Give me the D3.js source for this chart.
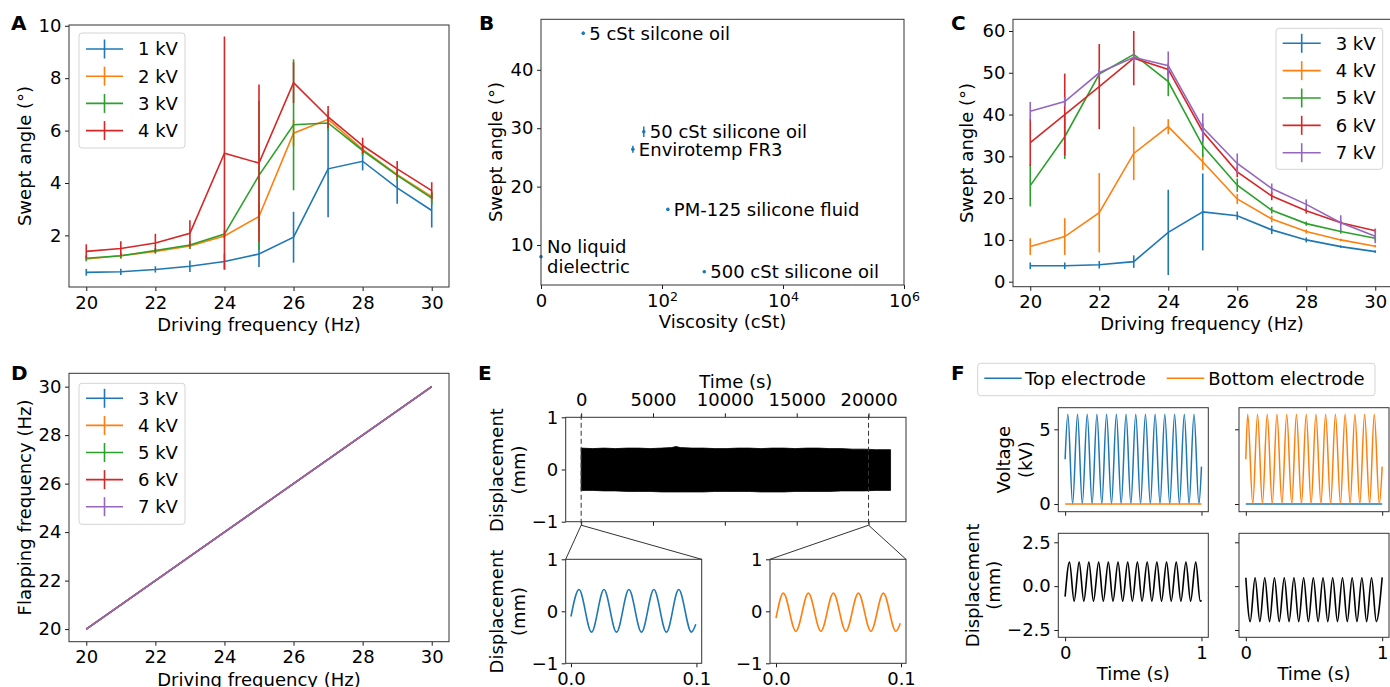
<!DOCTYPE html>
<html>
<head>
<meta charset="utf-8">
<script src="https://cdn.jsdelivr.net/npm/d3@7"></script>
<style>
body { margin: 0; background: #fff; }
svg { display: block; font-family: "DejaVu Sans", sans-serif; }
</style>
</head>
<body>
<svg id="fig" width="1390" height="687"></svg>
<script>
const tab = ['#1f77b4', '#ff7f0e', '#2ca02c', '#d62728', '#9467bd'];
const FS = 18;

// ---- A: swept angle vs driving frequency, 1-4 kV
const freqs = [20, 21, 22, 23, 24, 25, 26, 27, 28, 29, 30];
const labelsA = ['1 kV', '2 kV', '3 kV', '4 kV'];
const angle1kV = [0.59, 0.61, 0.70, 0.82, 1.00, 1.29, 1.93, 4.54, 4.83, 3.81, 2.95];
const err1kV = [0.13, 0.12, 0.12, 0.22, 0.30, 0.50, 0.97, 1.85, 0.35, 0.60, 0.65];
const angle2kV = [1.10, 1.22, 1.39, 1.60, 1.98, 2.72, 5.90, 6.43, 5.28, 4.32, 3.48];
const err2kV = [0.10, 0.10, 0.10, 0.12, 0.10, 0.50, 0.50, 0.30, 0.20, 0.20, 0.20];
const angle3kV = [1.13, 1.22, 1.42, 1.63, 2.05, 4.29, 6.22, 6.29, 5.24, 4.29, 3.42];
const err3kV = [0.10, 0.10, 0.10, 0.15, 0.15, 2.85, 2.50, 0.30, 0.20, 0.20, 0.25];
const angle4kV = [1.39, 1.50, 1.71, 2.08, 5.14, 4.76, 7.83, 6.52, 5.43, 4.54, 3.71];
const err4kV = [0.27, 0.28, 0.35, 0.50, 4.45, 3.00, 0.78, 0.42, 0.30, 0.30, 0.32];

// ---- B: swept angle vs viscosity
const fluids = ['No liquid\ndielectric', '5 cSt silcone oil', '50 cSt silicone oil', 'Envirotemp FR3', 'PM-125 silicone fluid', '500 cSt silicone oil'];
const viscosity = [1, 5, 50, 33, 125, 500];
const angleB = [8.0, 46.25, 29.4, 26.4, 16.1, 5.43];
const errB = [0.2, 0.3, 0.9, 0.6, 0.2, 0.2];

// ---- C: swept angle vs driving frequency, 3-7 kV
const labelsC = ['3 kV', '4 kV', '5 kV', '6 kV', '7 kV'];
const angleC3 = [3.8, 3.8, 4.05, 4.8, 11.8, 16.7, 15.8, 12.4, 10.0, 8.4, 7.2];
const errC3 = [0.8, 0.8, 0.9, 1.5, 10.2, 9.2, 1.0, 1.0, 0.6, 0.3, 0.3];
const angleC4 = [8.4, 10.8, 16.5, 30.7, 37.1, 28.7, 19.8, 15.0, 12.0, 10.0, 8.5];
const errC4 = [2.0, 4.4, 9.5, 6.4, 1.8, 2.0, 1.2, 0.8, 0.5, 0.3, 0.3];
const angleC5 = [23.0, 34.7, 49.7, 54.4, 47.9, 32.5, 23.1, 17.1, 13.9, 12.0, 10.4];
const errC5 = [5.0, 5.3, 1.0, 1.0, 3.5, 2.6, 1.6, 0.8, 0.5, 0.5, 0.6];
const angleC6 = [33.3, 40.0, 46.7, 53.5, 50.8, 35.9, 26.3, 20.5, 17.0, 14.1, 12.2];
const errC6 = [5.6, 9.8, 10.2, 6.5, 1.5, 2.0, 1.3, 1.0, 0.7, 0.5, 0.5];
const angleC7 = [40.8, 43.1, 50.0, 53.7, 51.7, 36.9, 28.3, 22.3, 18.5, 14.1, 10.9];
const errC7 = [2.2, 1.1, 1.0, 1.5, 3.4, 3.4, 2.4, 1.2, 1.2, 1.8, 1.7];

// ---- D: flapping frequency vs driving frequency
const flap3kV = [20, 21, 22, 23, 24, 25, 26, 27, 28, 29, 30];
const flap4kV = [20, 21, 22, 23, 24, 25, 26, 27, 28, 29, 30];
const flap5kV = [20, 21, 22, 23, 24, 25, 26, 27, 28, 29, 30];
const flap6kV = [20, 21, 22, 23, 24, 25, 26, 27, 28, 29, 30];
const flap7kV = [20, 21, 22, 23, 24, 25, 26, 27, 28, 29, 30];

// ---- E: long run displacement envelope and two zoomed windows
const envT = [0, 800, 1600, 2400, 3200, 4000, 4800, 5600, 6300, 6600, 6900, 7700, 8500, 9300, 10100, 10900, 11700, 12500, 13300, 14100, 14900, 15700, 16500, 17300, 18100, 18900, 19700, 20500, 21530];
const envUpper = [0.41, 0.40, 0.41, 0.40, 0.41, 0.41, 0.40, 0.41, 0.42, 0.44, 0.42, 0.41, 0.41, 0.40, 0.40, 0.41, 0.41, 0.40, 0.41, 0.41, 0.40, 0.41, 0.41, 0.40, 0.40, 0.39, 0.39, 0.38, 0.38];
const envLower = [-0.40, -0.40, -0.41, -0.41, -0.42, -0.42, -0.42, -0.43, -0.43, -0.43, -0.43, -0.43, -0.43, -0.42, -0.42, -0.42, -0.42, -0.43, -0.43, -0.43, -0.42, -0.42, -0.42, -0.42, -0.41, -0.41, -0.41, -0.40, -0.40];
const zoomTimes = [0, 20000];
const startT = [0, 0.0064, 0.0164, 0.0263, 0.0363, 0.0462, 0.0562, 0.0661, 0.0761, 0.0859, 0.0960, 0.0995];
const startDisp = [-0.10, 0.42, -0.40, 0.42, -0.40, 0.42, -0.40, 0.42, -0.40, 0.42, -0.40, -0.25];
const endT = [0, 0.0059, 0.0159, 0.0259, 0.0359, 0.0459, 0.0559, 0.0659, 0.0759, 0.0859, 0.0959, 0.0995];
const endDisp = [-0.13, 0.35, -0.385, 0.35, -0.385, 0.35, -0.385, 0.35, -0.385, 0.35, -0.385, -0.23];

// ---- F: electrode voltages and displacement over 1 s
const electrodes = ['Top electrode', 'Bottom electrode'];
const topOnT = [0, 0.020, 0.055, 0.091, 0.126, 0.162, 0.198, 0.233, 0.269, 0.304, 0.340, 0.376, 0.411, 0.447, 0.482, 0.518, 0.553, 0.589, 0.625, 0.660, 0.696, 0.731, 0.767, 0.803, 0.838, 0.874, 0.909, 0.945, 0.981, 1.0];
const topOnV = [3.0, 6.0, 0.0, 6.0, 0.0, 6.0, 0.0, 6.0, 0.0, 6.0, 0.0, 6.0, 0.0, 6.0, 0.0, 6.0, 0.0, 6.0, 0.0, 6.0, 0.0, 6.0, 0.0, 6.0, 0.0, 6.0, 0.0, 6.0, 0.0, 2.5];
const bottomOnT = [0, 0.014, 0.051, 0.086, 0.122, 0.157, 0.194, 0.228, 0.265, 0.300, 0.337, 0.371, 0.408, 0.443, 0.479, 0.514, 0.551, 0.585, 0.622, 0.657, 0.694, 0.728, 0.765, 0.800, 0.836, 0.871, 0.908, 0.942, 0.979, 1.0];
const bottomOnV = [3.0, 6.0, 0.0, 6.0, 0.0, 6.0, 0.0, 6.0, 0.0, 6.0, 0.0, 6.0, 0.0, 6.0, 0.0, 6.0, 0.0, 6.0, 0.0, 6.0, 0.0, 6.0, 0.0, 6.0, 0.0, 6.0, 0.0, 6.0, 0.0, 2.5];
const offT = [0, 1];
const offV = [0, 0];
const dispTopT = [0, 0.032, 0.066, 0.103, 0.137, 0.174, 0.208, 0.246, 0.280, 0.317, 0.351, 0.388, 0.422, 0.459, 0.493, 0.530, 0.564, 0.602, 0.636, 0.673, 0.707, 0.744, 0.778, 0.815, 0.849, 0.886, 0.920, 0.958, 0.991, 1.0];
const dispTopV = [-0.6, 1.37, -0.86, 1.37, -0.86, 1.37, -0.86, 1.37, -0.86, 1.37, -0.86, 1.37, -0.86, 1.37, -0.86, 1.37, -0.86, 1.37, -0.86, 1.37, -0.86, 1.37, -0.86, 1.37, -0.86, 1.37, -0.86, 1.37, -0.86, -0.8];
const dispBottomT = [0, 0.032, 0.068, 0.103, 0.139, 0.174, 0.210, 0.245, 0.282, 0.317, 0.353, 0.388, 0.424, 0.459, 0.495, 0.530, 0.566, 0.601, 0.637, 0.672, 0.709, 0.744, 0.780, 0.815, 0.851, 0.886, 0.922, 0.957, 1.0];
const dispBottomV = [0.48, -2.02, 0.48, -2.02, 0.48, -2.02, 0.48, -2.02, 0.48, -2.02, 0.48, -2.02, 0.48, -2.02, 0.48, -2.02, 0.48, -2.02, 0.48, -2.02, 0.48, -2.02, 0.48, -2.02, 0.48, -2.02, 0.48, -2.02, 0.5];

const svg = d3.select('#fig');

function makeAxes(box, xd, yd, log) {
  const x = (log ? d3.scaleLog() : d3.scaleLinear()).domain(xd).range([box.l, box.r]);
  const y = d3.scaleLinear().domain(yd).range([box.b, box.t]);
  const g = svg.append('g');
  return { g, x, y, box };
}

function styleAxis(sel) {
  sel.select('.domain').remove();
  sel.attr('font-family', null).attr('font-size', null);
  sel.selectAll('.tick line').attr('stroke', '#000').attr('stroke-width', 0.9);
  sel.selectAll('.tick text').attr('fill', '#000').style('font-size', FS + 'px');
}

const noLabel = () => '';

function bottomAxis(ax, ticks, fmt) {
  const a = d3.axisBottom(ax.x).tickValues(ticks).tickSize(4).tickPadding(5).tickFormat(fmt || d3.format('d'));
  return ax.g.append('g').attr('transform', `translate(0,${ax.box.b})`).call(a).call(styleAxis);
}

function leftAxis(ax, ticks, fmt) {
  const a = d3.axisLeft(ax.y).tickValues(ticks).tickSize(4).tickPadding(3.5).tickFormat(fmt || d3.format('d'));
  return ax.g.append('g').attr('transform', `translate(${ax.box.l},0)`).call(a).call(styleAxis);
}

function frame(ax) {
  const b = ax.box;
  ax.g.append('rect')
    .attr('x', b.l).attr('y', b.t)
    .attr('width', b.r - b.l).attr('height', b.b - b.t)
    .attr('fill', 'none').attr('stroke', '#333').attr('stroke-width', 1);
}

function text(x, y, str, opts = {}) {
  const t = svg.append('text')
    .attr('x', x).attr('y', y)
    .attr('font-size', (opts.size || FS) + 'px')
    .attr('fill', '#000')
    .attr('text-anchor', opts.anchor || 'start')
    .text(str);
  if (opts.bold) t.attr('font-weight', 'bold');
  return t;
}

function yLabel(x, y, str) {
  return svg.append('text')
    .attr('transform', `translate(${x},${y}) rotate(-90)`)
    .attr('text-anchor', 'middle').attr('dy', '0.35em')
    .attr('font-size', FS + 'px').attr('fill', '#000')
    .text(str);
}

function errSeries(ax, xs, ys, es, color) {
  const pts = xs.map((d, i) => ({ x: d, y: ys[i], e: es[i] }));
  ax.g.append('path').datum(pts)
    .attr('d', d3.line().x(d => ax.x(d.x)).y(d => ax.y(d.y)))
    .attr('fill', 'none').attr('stroke', color).attr('stroke-width', 1.6);
  ax.g.append('g').selectAll('line').data(pts).join('line')
    .attr('x1', d => ax.x(d.x)).attr('x2', d => ax.x(d.x))
    .attr('y1', d => ax.y(d.y - d.e)).attr('y2', d => ax.y(d.y + d.e))
    .attr('stroke', color).attr('stroke-width', 1.6);
}

function wave(ax, ts, vs, color, width) {
  ax.g.append('path').datum(ts.map((t, i) => [t, vs[i]]))
    .attr('d', d3.line().x(d => ax.x(d[0])).y(d => ax.y(d[1])).curve(d3.curveMonotoneX))
    .attr('fill', 'none').attr('stroke', color).attr('stroke-width', width || 1.5);
}

function legend(box, labels, colors, firstY, step, lx0, lx1, tx, errMark) {
  const g = svg.append('g');
  g.append('rect')
    .attr('x', box.l).attr('y', box.t).attr('width', box.r - box.l).attr('height', box.b - box.t)
    .attr('rx', 3).attr('fill', '#fff').attr('fill-opacity', 0.8)
    .attr('stroke', '#d4d4d4');
  labels.forEach((lab, i) => {
    const y = firstY + i * step;
    g.append('line').attr('x1', lx0).attr('x2', lx1).attr('y1', y).attr('y2', y)
      .attr('stroke', colors[i]).attr('stroke-width', 1.6);
    if (errMark) {
      g.append('line').attr('x1', (lx0 + lx1) / 2).attr('x2', (lx0 + lx1) / 2)
        .attr('y1', y - 9.5).attr('y2', y + 9.5)
        .attr('stroke', colors[i]).attr('stroke-width', 1.6);
    }
    g.append('text').attr('x', tx).attr('y', y).attr('dy', '0.35em')
      .attr('font-size', FS + 'px').attr('fill', '#000').text(lab);
  });
}

// ================= A
{
  const ax = makeAxes({ l: 69, t: 25, r: 449, b: 287 }, [19.5, 30.5], [0.03, 10.03]);
  bottomAxis(ax, [20, 22, 24, 26, 28, 30]);
  leftAxis(ax, [2, 4, 6, 8, 10]);
  const ys = [angle1kV, angle2kV, angle3kV, angle4kV];
  const es = [err1kV, err2kV, err3kV, err4kV];
  ys.forEach((s, i) => errSeries(ax, freqs, s, es[i], tab[i]));
  frame(ax);
  legend({ l: 79, t: 33, r: 185, b: 148 }, labelsA, tab, 49, 27.2, 86, 123, 138, true);
  text(259, 330.5, 'Driving frequency (Hz)', { anchor: 'middle' });
  yLabel(25, 156, 'Swept angle (°)');
  text(11, 30, 'A', { bold: true, size: 20 });
}

// ================= B
{
  const ax = makeAxes({ l: 541, t: 19.3, r: 904, b: 285 }, [1, 1e6], [3.15, 48.65], true);
  const xa = bottomAxis(ax, [1, 1e2, 1e4, 1e6], noLabel);
  xa.selectAll('.tick text').each(function (d) {
    const t = d3.select(this);
    if (d === 1) { t.text('0'); return; }
    t.append('tspan').text('10');
    t.append('tspan').attr('dy', '-0.45em').style('font-size', '12.6px').text(Math.round(Math.log10(d)));
  });
  leftAxis(ax, [10, 20, 30, 40]);
  const pts = viscosity.map((v, i) => ({ v, a: angleB[i], e: errB[i], name: fluids[i] }));
  ax.g.append('g').selectAll('line').data(pts).join('line')
    .attr('x1', d => ax.x(d.v)).attr('x2', d => ax.x(d.v))
    .attr('y1', d => ax.y(d.a - d.e)).attr('y2', d => ax.y(d.a + d.e))
    .attr('stroke', tab[0]).attr('stroke-width', 1.5);
  ax.g.append('g').selectAll('circle').data(pts).join('circle')
    .attr('cx', d => ax.x(d.v)).attr('cy', d => ax.y(d.a)).attr('r', 1.8)
    .attr('fill', tab[0]);
  ax.g.append('g').selectAll('text').data(pts).join('text')
    .attr('x', d => ax.x(d.v) + 6).attr('y', d => ax.y(d.a))
    .attr('font-size', FS + 'px').attr('fill', '#000')
    .each(function (d) {
      const lines = d.name.split('\n');
      const t = d3.select(this);
      lines.forEach((ln, k) => {
        t.append('tspan').attr('x', ax.x(d.v) + 6)
          .attr('dy', k === 0 ? (0.35 - (lines.length - 1) * 0.58) + 'em' : '1.16em')
          .text(ln);
      });
    });
  frame(ax);
  text(722.5, 328, 'Viscosity (cSt)', { anchor: 'middle' });
  yLabel(496, 152, 'Swept angle (°)');
  text(479, 30, 'B', { bold: true, size: 20 });
}

// ================= C
{
  const ax = makeAxes({ l: 1013, t: 19.3, r: 1392.5, b: 286.7 }, [19.5, 30.5], [-1.2, 62.8]);
  bottomAxis(ax, [20, 22, 24, 26, 28, 30]);
  leftAxis(ax, [0, 10, 20, 30, 40, 50, 60]);
  const ys = [angleC3, angleC4, angleC5, angleC6, angleC7];
  const es = [errC3, errC4, errC5, errC6, errC7];
  ys.forEach((s, i) => errSeries(ax, freqs, s, es[i], tab[i]));
  frame(ax);
  legend({ l: 1276, t: 28.3, r: 1382.7, b: 169.3 }, labelsC, tab, 43.3, 27.35, 1282.7, 1320.7, 1335.7, true);
  text(1202, 330, 'Driving frequency (Hz)', { anchor: 'middle' });
  yLabel(967, 153, 'Swept angle (°)');
  text(951, 30, 'C', { bold: true, size: 20 });
}

// ================= D
{
  const ax = makeAxes({ l: 69, t: 373.3, r: 449, b: 641.7 }, [19.5, 30.5], [19.48, 30.55]);
  bottomAxis(ax, [20, 22, 24, 26, 28, 30]);
  leftAxis(ax, [20, 22, 24, 26, 28, 30]);
  const zeros = freqs.map(() => 0);
  [flap3kV, flap4kV, flap5kV, flap6kV, flap7kV].forEach((s, i) => errSeries(ax, freqs, s, zeros, tab[i]));
  frame(ax);
  legend({ l: 79, t: 383.3, r: 185, b: 524.3 }, labelsC, tab, 398.3, 27.1, 86, 123, 138, true);
  text(259, 685.5, 'Driving frequency (Hz)', { anchor: 'middle' });
  yLabel(25, 507.5, 'Flapping frequency (Hz)');
  text(11, 380, 'D', { bold: true, size: 20 });
}

// ================= E
{
  const ax = makeAxes({ l: 565.7, t: 417.3, r: 906, b: 521.7 }, [-1076, 22606], [-1, 1]);
  const xt = [0, 5000, 10000, 15000, 20000];
  const top = d3.axisTop(ax.x).tickValues(xt).tickSize(4).tickPadding(7).tickFormat(d3.format('d'));
  ax.g.append('g').attr('transform', `translate(0,${ax.box.t})`).call(top).call(styleAxis);
  bottomAxis(ax, xt, noLabel);
  leftAxis(ax, [-1, 0, 1]);
  const env = envT.map((t, i) => ({ t, hi: envUpper[i], lo: envLower[i] }));
  ax.g.append('path').datum(env)
    .attr('d', d3.area().x(d => ax.x(d.t)).y0(d => ax.y(d.lo)).y1(d => ax.y(d.hi)))
    .attr('fill', '#000').attr('stroke', '#000').attr('stroke-width', 0.8);

  const in1 = makeAxes({ l: 565.7, t: 559.3, r: 701.7, b: 663.3 }, [-0.0042, 0.1042], [-1, 1]);
  const in2 = makeAxes({ l: 770, t: 559.3, r: 906, b: 663.3 }, [-0.0048, 0.104], [-1, 1]);
  [in1, in2].forEach(a => {
    bottomAxis(a, [0, 0.1], d3.format('.1f'));
    leftAxis(a, [-1, 0, 1]);
  });
  wave(in1, startT, startDisp, tab[0], 1.6);
  wave(in2, endT, endDisp, tab[1], 1.6);
  frame(in1);
  frame(in2);

  // dashed markers and connectors to the zoomed windows
  ax.g.append('g').selectAll('line').data(zoomTimes).join('line')
    .attr('x1', d => ax.x(d)).attr('x2', d => ax.x(d))
    .attr('y1', ax.box.t - 2.5).attr('y2', ax.box.b + 3.5)
    .attr('stroke', '#333').attr('stroke-width', 1).attr('stroke-dasharray', '5,3');
  frame(ax);
  const targets = [in1, in2];
  zoomTimes.forEach((t, i) => {
    const a = targets[i];
    [a.box.l, a.box.r].forEach(cx => {
      svg.append('line')
        .attr('x1', ax.x(t)).attr('y1', ax.box.b + 3.5)
        .attr('x2', cx).attr('y2', a.box.t)
        .attr('stroke', '#333').attr('stroke-width', 1);
    });
  });

  text(735.8, 387.5, 'Time (s)', { anchor: 'middle' });
  yLabel(497, 470, 'Displacement');
  yLabel(518.5, 470, '(mm)');
  yLabel(497, 611.5, 'Displacement');
  yLabel(518.5, 611.5, '(mm)');
  text(478, 380, 'E', { bold: true, size: 20 });
}

// ================= F
{
  const vTL = makeAxes({ l: 1058.3, t: 407.7, r: 1208.3, b: 511.7 }, [-0.05, 1.05], [-0.515, 6.446]);
  const vTR = makeAxes({ l: 1239, t: 407.7, r: 1389, b: 511.7 }, [-0.05, 1.05], [-0.515, 6.446]);
  const dBL = makeAxes({ l: 1058.3, t: 533.3, r: 1208.3, b: 637.3 }, [-0.05, 1.05], [-2.916, 3.013]);
  const dBR = makeAxes({ l: 1239, t: 533.3, r: 1389, b: 637.3 }, [-0.05, 1.05], [-2.916, 3.013]);

  bottomAxis(vTL, [0, 1], noLabel);
  bottomAxis(vTR, [0, 1], noLabel);
  bottomAxis(dBL, [0, 1]);
  bottomAxis(dBR, [0, 1]);
  leftAxis(vTL, [0, 5]);
  leftAxis(vTR, [0, 5], noLabel);
  leftAxis(dBL, [-2.5, 0, 2.5], d3.format('.1f'));
  leftAxis(dBR, [-2.5, 0, 2.5], noLabel);

  wave(vTL, topOnT, topOnV, tab[0], 1.5);
  wave(vTL, offT, offV, tab[1], 1.5);
  wave(vTR, offT, offV, tab[0], 1.5);
  wave(vTR, bottomOnT, bottomOnV, tab[1], 1.5);
  wave(dBL, dispTopT, dispTopV, '#000', 1.6);
  wave(dBR, dispBottomT, dispBottomV, '#000', 1.6);
  [vTL, vTR, dBL, dBR].forEach(frame);

  // legend across the top
  const lg = svg.append('g');
  lg.append('rect').attr('x', 977.7).attr('y', 363.3).attr('width', 397.3).attr('height', 32.4)
    .attr('rx', 3).attr('fill', '#fff').attr('stroke', '#d4d4d4');
  const lx = [[984.3, 1021.7, 1025], [1166.7, 1204.3, 1208.3]];
  electrodes.forEach((name, i) => {
    lg.append('line').attr('x1', lx[i][0]).attr('x2', lx[i][1]).attr('y1', 378.3).attr('y2', 378.3)
      .attr('stroke', tab[i]).attr('stroke-width', 1.6);
    lg.append('text').attr('x', lx[i][2]).attr('y', 378.3).attr('dy', '0.35em')
      .attr('font-size', FS + 'px').attr('fill', '#000').text(name);
  });

  text(1133.3, 680, 'Time (s)', { anchor: 'middle' });
  text(1314, 680, 'Time (s)', { anchor: 'middle' });
  yLabel(1004, 459.7, 'Voltage');
  yLabel(1025.5, 459.7, '(kV)');
  yLabel(973, 585.3, 'Displacement');
  yLabel(994, 585.3, '(mm)');
  text(951, 380, 'F', { bold: true, size: 20 });
}
</script>
</body>
</html>
